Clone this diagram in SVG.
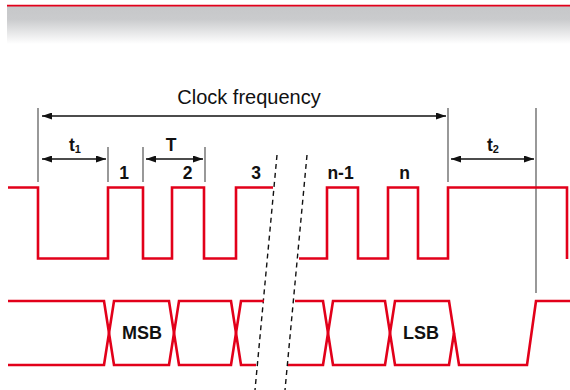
<svg xmlns="http://www.w3.org/2000/svg" width="570" height="390" viewBox="0 0 570 390">
<defs>
<linearGradient id="hdr" x1="0" y1="0" x2="0" y2="1">
<stop offset="0" stop-color="#c6c7c9"/>
<stop offset="0.35" stop-color="#cacbcd"/>
<stop offset="1" stop-color="#ffffff"/>
</linearGradient>
<marker id="ah" viewBox="0 0 10 7" refX="10" refY="3.5" markerWidth="10" markerHeight="7" markerUnits="userSpaceOnUse" orient="auto-start-reverse">
<path d="M0,0 L10,3.5 L0,7 Z" fill="#111"/>
</marker>
</defs>
<style>
.sig{fill:none;stroke:#e2001a;stroke-width:2.6;stroke-linejoin:miter}
.tick{stroke:#444;stroke-width:1.1;fill:none}
.dim{stroke:#111;stroke-width:1.3;fill:none;marker-start:url(#ah);marker-end:url(#ah)}
.brk{stroke:#111;stroke-width:1.4;stroke-dasharray:5 4;fill:none}
.lbl{font-family:"Liberation Sans",Arial,sans-serif;font-weight:bold;font-size:17.5px;fill:#111;text-anchor:middle}
.big{font-size:18px}
.ttl{font-family:"Liberation Sans",Arial,sans-serif;font-size:20px;fill:#111;text-anchor:middle}
</style>
<rect x="0" y="0" width="570" height="390" fill="#ffffff"/>
<g id="header">
<rect x="7" y="6" width="563" height="38" fill="url(#hdr)"/>
<line x1="7" y1="5.6" x2="570" y2="5.6" stroke="#e2001a" stroke-width="1.7"/>
</g>
<g id="connectors">
<line class="tick" x1="38" y1="108" x2="38" y2="182"/>
<line class="tick" x1="108" y1="147" x2="108" y2="182"/>
<line class="tick" x1="143" y1="147" x2="143" y2="182"/>
<line class="tick" x1="205" y1="147" x2="205" y2="182"/>
<line class="tick" x1="448" y1="108" x2="448" y2="182"/>
<line class="tick" x1="536" y1="108" x2="536" y2="293"/>
<line class="dim" x1="42" y1="116" x2="446" y2="116"/>
<line class="dim" x1="42" y1="159" x2="106" y2="159"/>
<line class="dim" x1="146" y1="159" x2="203" y2="159"/>
<line class="dim" x1="451" y1="159" x2="534" y2="159"/>
<line class="brk" x1="277" y1="155" x2="255" y2="390"/>
<line class="brk" x1="307" y1="155" x2="285" y2="390"/>
</g>
<g id="clock">
<polyline class="sig" points="8,187.5 38,187.5 38,258.5 108,258.5 108,187.5 143,187.5 143,258.5 172,258.5 172,187.5 204,187.5 204,258.5 236,258.5 236,187.5 273,187.5"/>
<polyline class="sig" points="299,258.5 327,258.5 327,187.5 358,187.5 358,258.5 388,258.5 388,187.5 418,187.5 418,258.5 448,258.5 448,187.5 567,187.5 567,259"/>
</g>
<g id="data">
<path class="sig" d="M8,301 H104 L114,365 H169 L179,301 H231 L241,365 H256"/>
<path class="sig" d="M8,365 H104 L114,301 H169 L179,365 H231 L241,301 H264"/>
<path class="sig" d="M295,301 H323 L333,365 H385 L395,301 H449 L459,365 H527 L536,301 H570"/>
<path class="sig" d="M288,365 H323 L333,301 H385 L395,365 H449 L454,333"/>
</g>
<g id="labels">
<text class="ttl" x="249" y="104">Clock frequency</text>
<text class="lbl" x="75" y="151">t<tspan font-size="11" dy="2">1</tspan></text>
<text class="lbl" x="171" y="151">T</text>
<text class="lbl" x="124" y="179">1</text>
<text class="lbl" x="187.5" y="179">2</text>
<text class="lbl" x="256" y="179">3</text>
<text class="lbl" x="340.5" y="179">n-1</text>
<text class="lbl" x="404.5" y="179">n</text>
<text class="lbl" x="493" y="151">t<tspan font-size="11" dy="2">2</tspan></text>
<text class="lbl big" x="142" y="339">MSB</text>
<text class="lbl big" x="421" y="339">LSB</text>
</g>
</svg>
